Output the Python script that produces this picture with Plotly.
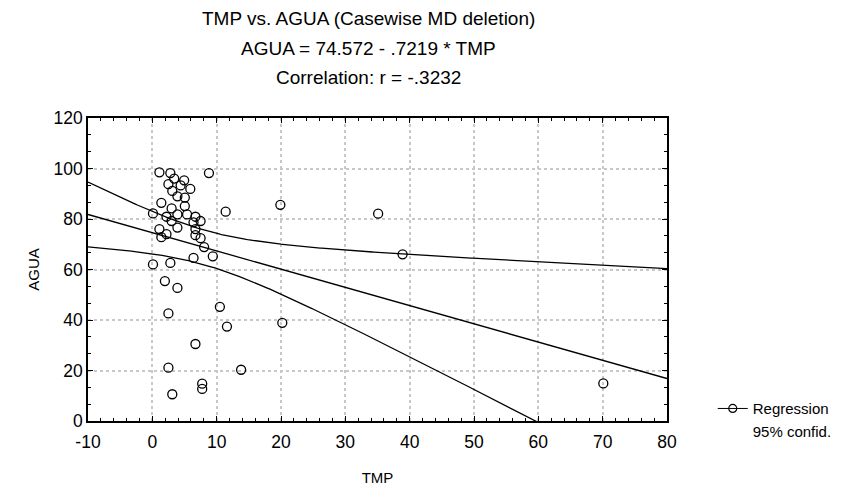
import numpy as np
import plotly.graph_objects as go

# ---- data ----
tmp = [1.1, 2.8, 3.4, 2.5, 4.95, 4.4, 3.1, 5.9, 3.9, 5.05,
       8.8, 1.4, 3.0, 5.05, 11.4, 0.1, 2.2, 3.9, 5.4, 3.0,
       6.7, 6.4, 7.5, 3.9, 1.1, 6.7, 1.4, 2.2, 6.7, 7.5,
       8.05, 6.4, 9.4, 0.1, 2.8, 1.95, 3.9, 2.5, 10.5, 11.6,
       6.7, 2.5, 13.8, 7.75, 7.75, 3.1, 19.9, 35.1, 38.9, 20.2,
       70.1]
agua = [98.5, 98.2, 96.0, 93.8, 95.3, 93.3, 91.1, 91.9, 89.0, 88.5,
        98.2, 86.4, 84.2, 85.1, 82.9, 82.2, 80.9, 81.8, 81.8, 79.2,
        80.9, 78.7, 79.2, 76.6, 76.0, 76.0, 72.8, 74.0, 73.6, 72.4,
        68.9, 64.6, 65.2, 62.0, 62.6, 55.4, 52.7, 42.6, 45.2, 37.4,
        30.5, 21.1, 20.3, 14.8, 12.7, 10.6, 85.6, 82.1, 66.0, 38.9,
        14.9]

intercept = 74.572
slope = -0.7219
t_crit = 2.0096  # 95%, df = n - 2

title_lines = ["TMP vs. AGUA (Casewise MD deletion)",
               "AGUA = 74.572 - .7219 * TMP",
               "Correlation: r = -.3232"]

x_tickvals = [-10, 0, 10, 20, 30, 40, 50, 60, 70, 80]
x_ticktext = ["-10", "0", "10", "20", "30", "40", "50", "60", "70", "80"]
y_tickvals = [0, 20, 40, 60, 80, 100, 120]
y_ticktext = ["0", "20", "40", "60", "80", "100", "120"]

x_range = [-10, 80]
y_range = [0, 120]

# ---- regression and confidence band ----
xa = np.array(tmp)
ya = np.array(agua)
n = len(xa)
resid = ya - (intercept + slope * xa)
s = np.sqrt(np.sum(resid ** 2) / (n - 2))
xbar = xa.mean()
sxx = np.sum((xa - xbar) ** 2)
xg = np.linspace(x_range[0], x_range[1], 400)
yg = intercept + slope * xg
hw = t_crit * s * np.sqrt(1.0 / n + (xg - xbar) ** 2 / sxx)

FONT = "Liberation Sans, Arial, sans-serif"

fig = go.Figure()
line_style = dict(color="black", width=1.3)
fig.add_trace(go.Scatter(x=xg, y=yg, mode="lines", line=line_style,
                         showlegend=False, hoverinfo="skip"))
fig.add_trace(go.Scatter(x=xg, y=yg + hw, mode="lines", line=line_style,
                         showlegend=False, hoverinfo="skip"))
fig.add_trace(go.Scatter(x=xg, y=yg - hw, mode="lines", line=line_style,
                         showlegend=False, hoverinfo="skip"))
fig.add_trace(go.Scatter(x=tmp, y=agua, mode="markers",
                         marker=dict(symbol="circle-open", size=9,
                                     color="black", line=dict(width=1.3)),
                         showlegend=False, cliponaxis=True))
# legend entries
fig.add_trace(go.Scatter(x=[None], y=[None], mode="lines+markers", name="Regression",
                         line=dict(color="black", width=1),
                         marker=dict(symbol="circle-open", size=8, color="black",
                                     line=dict(width=1.2))))
fig.add_trace(go.Scatter(x=[None], y=[None], mode="lines", name="95% confid.",
                         line=dict(color="rgba(0,0,0,0)", width=1)))

axis_common = dict(
    showline=True, linecolor="black", linewidth=1.5, mirror="ticks",
    ticks="inside", ticklen=5, tickcolor="black", tickwidth=1,
    showgrid=True, gridcolor="#c8c8c8", griddash="dot", gridwidth=1.5,
    zeroline=False,
    tickfont=dict(family=FONT, size=17.5, color="black"),
)

fig.update_xaxes(range=x_range, tickmode="array", tickvals=x_tickvals, ticktext=x_ticktext,
                 minor=dict(tickmode="linear", tick0=0, dtick=2, ticks="inside", ticklen=3,
                            tickcolor="black", showgrid=False),
                 ticklabelstandoff=4, automargin=False,
                 title=dict(text="TMP", font=dict(family=FONT, size=15, color="black"),
                            standoff=22),
                 **axis_common)
fig.update_yaxes(range=y_range, tickmode="array", tickvals=y_tickvals, ticktext=y_ticktext,
                 minor=dict(tickmode="linear", tick0=0, dtick=20 / 3, ticks="inside", ticklen=3,
                            tickcolor="black", showgrid=False),
                 automargin=False,
                 title=dict(text="AGUA", font=dict(family=FONT, size=15, color="black"),
                            standoff=10),
                 **axis_common)

annotations = []
for i, t in enumerate(title_lines):
    annotations.append(dict(text=t, xref="paper", yref="paper",
                            x=0.4836, y=1 + (118 - (19 + 29 * i)) / 303.0,
                            xanchor="center", yanchor="middle", showarrow=False,
                            font=dict(family=FONT, size=19, color="black")))

fig.update_layout(
    width=853, height=489,
    margin=dict(l=88, r=186, t=118, b=68),
    paper_bgcolor="white", plot_bgcolor="white",
    annotations=annotations,
    legend=dict(x=1.079, y=0.095, xanchor="left", yanchor="top",
                font=dict(family=FONT, size=15, color="black"),
                bgcolor="rgba(0,0,0,0)", tracegroupgap=0, itemwidth=30),
    font=dict(family=FONT, color="black"),
)

fig.write_html("out.html")
